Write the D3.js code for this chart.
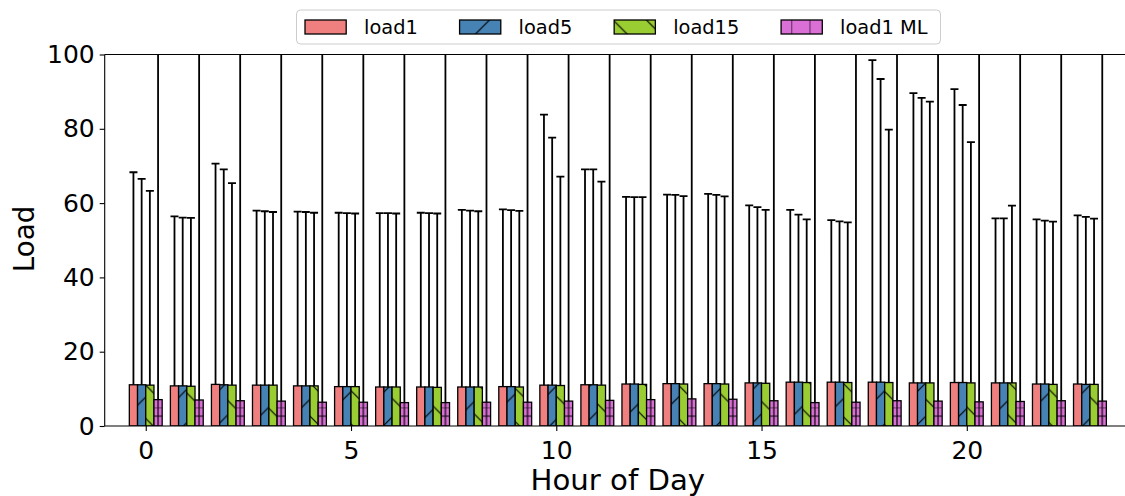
<!DOCTYPE html>
<html>
<head>
<meta charset="utf-8">
<script src="https://cdn.jsdelivr.net/npm/d3@7"></script>
<style>
  html, body { margin: 0; padding: 0; background: #fff; }
  svg { display: block; font-family: "DejaVu Sans", sans-serif; }
</style>
</head>
<body>
<svg id="chart" width="1125" height="496"></svg>
<script>
// Hour of day categories
const hours = [0,1,2,3,4,5,6,7,8,9,10,11,12,13,14,15,16,17,18,19,20,21,22,23];

// Mean load per hour
const load1Mean  = [11.1,10.8,11.2,11.0,10.8,10.6,10.5,10.5,10.5,10.6,11.0,11.1,11.3,11.4,11.4,11.6,11.8,11.8,11.8,11.6,11.7,11.6,11.3,11.3];
const load5Mean  = [11.1,10.8,11.1,11.0,10.8,10.6,10.5,10.5,10.5,10.6,11.0,11.1,11.3,11.4,11.4,11.6,11.8,11.8,11.8,11.6,11.7,11.6,11.3,11.2];
const load15Mean = [11.0,10.7,11.0,11.0,10.8,10.6,10.5,10.4,10.5,10.5,10.9,11.0,11.2,11.3,11.3,11.5,11.7,11.7,11.7,11.6,11.6,11.6,11.2,11.2];
const mlMean     = [7.1,7.0,6.8,6.7,6.4,6.4,6.3,6.3,6.4,6.4,6.7,6.9,7.1,7.3,7.2,6.8,6.3,6.4,6.8,6.7,6.5,6.6,6.8,6.7];

// Standard deviation per hour (upper error bars)
const load1Std  = [57.2,45.6,59.4,47.0,46.9,46.8,46.8,46.9,47.7,47.7,72.8,58.0,50.4,50.9,51.1,47.8,46.4,43.6,86.7,78.0,79.0,44.3,44.3,45.4];
const load5Std  = [55.4,45.3,58.0,46.8,46.8,46.7,46.8,46.8,47.5,47.5,66.6,58.0,50.3,50.8,50.8,47.3,45.1,43.3,81.6,76.7,74.7,44.3,44.0,45.1];
const load15Std = [52.3,45.3,54.4,46.6,46.6,46.6,46.7,46.8,47.3,47.4,56.2,54.8,50.4,50.6,50.5,46.7,43.9,43.1,68.1,75.7,64.8,47.7,43.8,44.6];
const mlStd     = [118,115,112,110,108,107,106,106,107,108,112,115,118,120,119,114,108,109,116,113,111,112,114,113];

// Axis ticks and labels
const xTicks = [0,5,10,15,20];
const yTicks = [0,20,40,60,80,100];
const seriesNames = ["load1","load5","load15","load1 ML"];
const seriesColors = ["#F08080","#4682B4","#9ACD32","#DA70D6"];
const seriesHatch = ["none","url(#hatchSlash)","url(#hatchBack)","url(#hatchML)"];
const legendHatch = ["none","url(#hatchSlash)","url(#hatchBack)","url(#hatchMLLegend)"];
const seriesMeans = [load1Mean, load5Mean, load15Mean, mlMean];
const seriesStds = [load1Std, load5Std, load15Std, mlStd];

const svg = d3.select("#chart");
const plot = { left: 104.7, right: 1131, top: 54.5, bottom: 426 };

const x = d3.scaleLinear().domain([-1, 24]).range([plot.left, plot.right]);
const y = d3.scaleLinear().domain([0, 100]).range([plot.bottom, plot.top]);
const barW = 0.2;
const offsets = [-0.3, -0.1, 0.1, 0.3];
const step = x(1) - x(0);

// Hatch patterns
const defs = svg.append("defs");
const p = 33.3;
const slash = defs.append("pattern").attr("id","hatchSlash")
  .attr("patternUnits","userSpaceOnUse").attr("width",p).attr("height",p)
  .attr("x", 10).attr("y", 0);
slash.append("path").attr("d",`M0,${p} L${p},0 M${-p/2},${p/2} L${p/2},${-p/2} M${p/2},${p*1.5} L${p*1.5},${p/2}`)
  .attr("stroke","#000").attr("stroke-width",1.2);

const back = defs.append("pattern").attr("id","hatchBack")
  .attr("patternUnits","userSpaceOnUse").attr("width",p).attr("height",p)
  .attr("x", 27).attr("y", 0);
back.append("path").attr("d",`M0,0 L${p},${p} M${-p/2},${p/2} L${p/2},${p*1.5} M${p/2},${-p/2} L${p*1.5},${p/2}`)
  .attr("stroke","#000").attr("stroke-width",1.2);

const mlH = y(2.65) - y(5.0);
const ml = defs.append("pattern").attr("id","hatchML")
  .attr("patternUnits","userSpaceOnUse").attr("width",step).attr("height",mlH*3)
  .attr("x", x(0.3) - step/2).attr("y", y(5.0));
ml.append("line").attr("x1",step/2).attr("x2",step/2).attr("y1",0).attr("y2",mlH*3)
  .attr("stroke","#000").attr("stroke-width",1.2);
ml.append("line").attr("x1",0).attr("x2",step).attr("y1",0).attr("y2",0)
  .attr("stroke","#000").attr("stroke-width",1.2);
ml.append("line").attr("x1",0).attr("x2",step).attr("y1",mlH).attr("y2",mlH)
  .attr("stroke","#000").attr("stroke-width",1.2);

const mlL = defs.append("pattern").attr("id","hatchMLLegend")
  .attr("patternUnits","userSpaceOnUse").attr("width",18.2).attr("height",40)
  .attr("x", 791.3).attr("y", 0);
mlL.append("line").attr("x1",0).attr("x2",0).attr("y1",0).attr("y2",40)
  .attr("stroke","#000").attr("stroke-width",1.2);

defs.append("clipPath").attr("id","plotClip").append("rect")
  .attr("x", plot.left).attr("y", plot.top)
  .attr("width", plot.right - plot.left).attr("height", plot.bottom - plot.top);

// Bars
const barLayer = svg.append("g").attr("clip-path","url(#plotClip)");
seriesMeans.forEach((vals, si) => {
  const g = barLayer.append("g");
  const data = hours.map((h, i) => ({ h, v: vals[i] }));
  const bx = d => x(d.h + offsets[si] - barW/2);
  const bw = x(barW) - x(0);
  g.selectAll("rect.fill").data(data).join("rect").attr("class","fill")
    .attr("x", bx).attr("width", bw)
    .attr("y", d => y(d.v)).attr("height", d => y(0) - y(d.v))
    .attr("fill", seriesColors[si]);
  if (seriesHatch[si] !== "none") {
    g.selectAll("rect.hatch").data(data).join("rect").attr("class","hatch")
      .attr("x", bx).attr("width", bw)
      .attr("y", d => y(d.v)).attr("height", d => y(0) - y(d.v))
      .attr("fill", seriesHatch[si]);
  }
  g.selectAll("rect.edge").data(data).join("rect").attr("class","edge")
    .attr("x", bx).attr("width", bw)
    .attr("y", d => y(d.v)).attr("height", d => y(0) - y(d.v))
    .attr("fill","none").attr("stroke","#000").attr("stroke-width",1.3);
});

// Error bars
const errLayer = svg.append("g").attr("clip-path","url(#plotClip)");
seriesMeans.forEach((vals, si) => {
  const data = hours.map((h, i) => ({ h, v: vals[i], s: seriesStds[si][i] }));
  const g = errLayer.append("g");
  g.selectAll("line.stem").data(data).join("line").attr("class","stem")
    .attr("x1", d => x(d.h + offsets[si])).attr("x2", d => x(d.h + offsets[si]))
    .attr("y1", d => y(d.v)).attr("y2", d => y(d.v + d.s))
    .attr("stroke","#000").attr("stroke-width",1.8);
  g.selectAll("line.cap").data(data).join("line").attr("class","cap")
    .attr("x1", d => x(d.h + offsets[si]) - 4).attr("x2", d => x(d.h + offsets[si]) + 4)
    .attr("y1", d => y(d.v + d.s)).attr("y2", d => y(d.v + d.s))
    .attr("stroke","#000").attr("stroke-width",1.8);
});

// Spines
const spines = svg.append("g").attr("stroke","#000").attr("stroke-width",1.1);
spines.append("line").attr("x1",plot.left).attr("x2",plot.left).attr("y1",plot.top).attr("y2",plot.bottom);
spines.append("line").attr("x1",plot.left).attr("x2",plot.right).attr("y1",plot.bottom).attr("y2",plot.bottom);
spines.append("line").attr("x1",plot.left).attr("x2",plot.right).attr("y1",plot.top).attr("y2",plot.top);
spines.append("line").attr("x1",plot.right).attr("x2",plot.right).attr("y1",plot.top).attr("y2",plot.bottom);

// Axes
const xAxis = svg.append("g").attr("transform",`translate(0,${plot.bottom})`)
  .call(d3.axisBottom(x).tickValues(xTicks).tickSize(5).tickSizeOuter(0).tickPadding(10));
xAxis.select(".domain").remove();
xAxis.selectAll(".tick line").attr("stroke","#000").attr("stroke-width",1.1);
xAxis.selectAll(".tick text").attr("font-size",25).attr("font-family","DejaVu Sans").attr("fill","#000");

const yAxis = svg.append("g").attr("transform",`translate(${plot.left},0)`)
  .call(d3.axisLeft(y).tickValues(yTicks).tickSize(5).tickSizeOuter(0).tickPadding(5));
yAxis.select(".domain").remove();
yAxis.selectAll(".tick line").attr("stroke","#000").attr("stroke-width",1.1);
yAxis.selectAll(".tick text").attr("font-size",25).attr("font-family","DejaVu Sans").attr("fill","#000");

// Axis titles
svg.append("text").attr("x", (plot.left + plot.right)/2).attr("y", 490)
  .attr("text-anchor","middle").attr("font-size",29.2).text("Hour of Day");
svg.append("text").attr("transform",`translate(33.5,239) rotate(-90)`)
  .attr("text-anchor","middle").attr("font-size",27.8).text("Load");

// Legend
const legend = svg.append("g");
legend.append("rect").attr("x",296.5).attr("y",10).attr("width",644).attr("height",34)
  .attr("rx",4).attr("fill","#fff").attr("fill-opacity",0.8).attr("stroke","#cccccc").attr("stroke-width",1);
let lx = 305;
const patchW = 41.2, patchH = 14, legFont = 19.4;
seriesNames.forEach((name, i) => {
  legend.append("rect").attr("x",lx).attr("y",20).attr("width",patchW).attr("height",patchH)
    .attr("fill",seriesColors[i]);
  if (legendHatch[i] !== "none") {
    legend.append("rect").attr("x",lx).attr("y",20).attr("width",patchW).attr("height",patchH)
      .attr("fill",legendHatch[i]);
  }
  legend.append("rect").attr("x",lx).attr("y",20).attr("width",patchW).attr("height",patchH)
    .attr("fill","none").attr("stroke","#000").attr("stroke-width",1.3);
  const t = legend.append("text").attr("x", lx + patchW + 17.8).attr("y", 34)
    .attr("font-size", legFont).text(name);
  lx = lx + patchW + 17.8 + t.node().getComputedTextLength() + 41.8;
});
</script>
</body>
</html>
